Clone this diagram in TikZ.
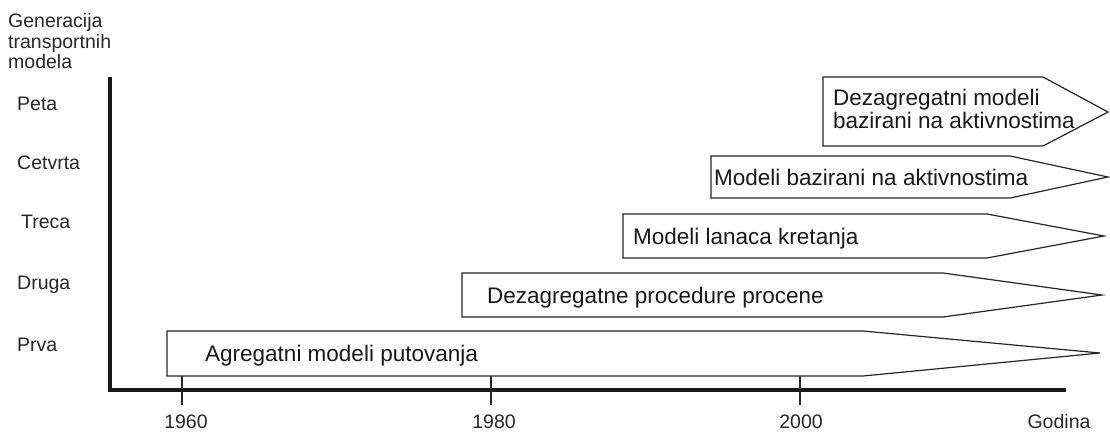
\documentclass[tikz,border=0pt]{standalone}
\usepackage{fontspec}
\setmainfont{Liberation Sans}
\begin{document}
\begin{tikzpicture}[x=1pt,y=-1pt,
  lbl/.style={inner sep=0pt,anchor=base west,font=\fontsize{19.5}{21}\selectfont,text=black!85},
  ticklbl/.style={inner sep=0pt,anchor=base,font=\fontsize{19.5}{21}\selectfont,text=black!85},
  boxtxt/.style={inner sep=0pt,anchor=base west,font=\fontsize{22.5}{24}\selectfont,text=black!90},
  genbox/.style={draw=black!85,line width=1.2pt,line join=miter,fill=white},
  axis/.style={line width=4pt,black!90},
  tickmark/.style={line width=1.4pt,black!85}]
\useasboundingbox (0,0) rectangle (1110,432);
% axis labels
\node[lbl] (g1) at (8,27) {Generacija};
\node[lbl] (g2) at (8,48) {transportnih};
\node[lbl] (g3) at (8,68) {modela};
\node[lbl] (l5) at (17,110) {Peta};
\node[lbl] (l4) at (17,169) {Cetvrta};
\node[lbl] (l3) at (21,228) {Treca};
\node[lbl] (l2) at (17,289) {Druga};
\node[lbl] (l1) at (17,351) {Prva};
% axes
\coordinate (ytop) at (110,77);
\coordinate (origin) at (110,390);
\coordinate (xend) at (1066,390);
\draw[axis,line join=miter] (ytop) -- (origin) -- (xend);
% ticks
\coordinate (t60a) at (182,376); \coordinate (t60b) at (182,405);
\coordinate (t80a) at (491,376); \coordinate (t80b) at (491,405);
\coordinate (t00a) at (800,376); \coordinate (t00b) at (800,405);
\draw[tickmark] (t60a) -- (t60b);
\draw[tickmark] (t80a) -- (t80b);
\draw[tickmark] (t00a) -- (t00b);
\node[ticklbl] (y60) at (186,428) {1960};
\node[ticklbl] (y80) at (494,428) {1980};
\node[ticklbl] (y00) at (801,428) {2000};
\node[ticklbl] (god) at (1059,428) {Godina};
% generation arrows
\draw[genbox] (167,331) -- (863,331) -- (1100,353) -- (863,376) -- (167,376) -- cycle;
\draw[genbox] (462,273) -- (943,273) -- (1102,295) -- (943,317) -- (462,317) -- cycle;
\draw[genbox] (623,214) -- (987,214) -- (1104,236) -- (987,258) -- (623,258) -- cycle;
\draw[genbox] (711,156) -- (1010,156) -- (1108,177) -- (1010,198) -- (711,198) -- cycle;
\draw[genbox] (823,77) -- (1043,77) -- (1108,112) -- (1043,146) -- (823,146) -- cycle;
\draw[tickmark] (t60a) -- (182,390);
\node[boxtxt] (b1) at (205,361) {Agregatni modeli putovanja};
\node[boxtxt] (b2) at (487,303) {Dezagregatne procedure procene};
\node[boxtxt] (b3) at (633,244) {Modeli lanaca kretanja};
\node[boxtxt] (b4) at (714,185) {Modeli bazirani na aktivnostima};
\node[boxtxt] (b5a) at (833,105) {Dezagregatni modeli};
\node[boxtxt] (b5b) at (833,128) {bazirani na aktivnostima};
\end{tikzpicture}
\end{document}
